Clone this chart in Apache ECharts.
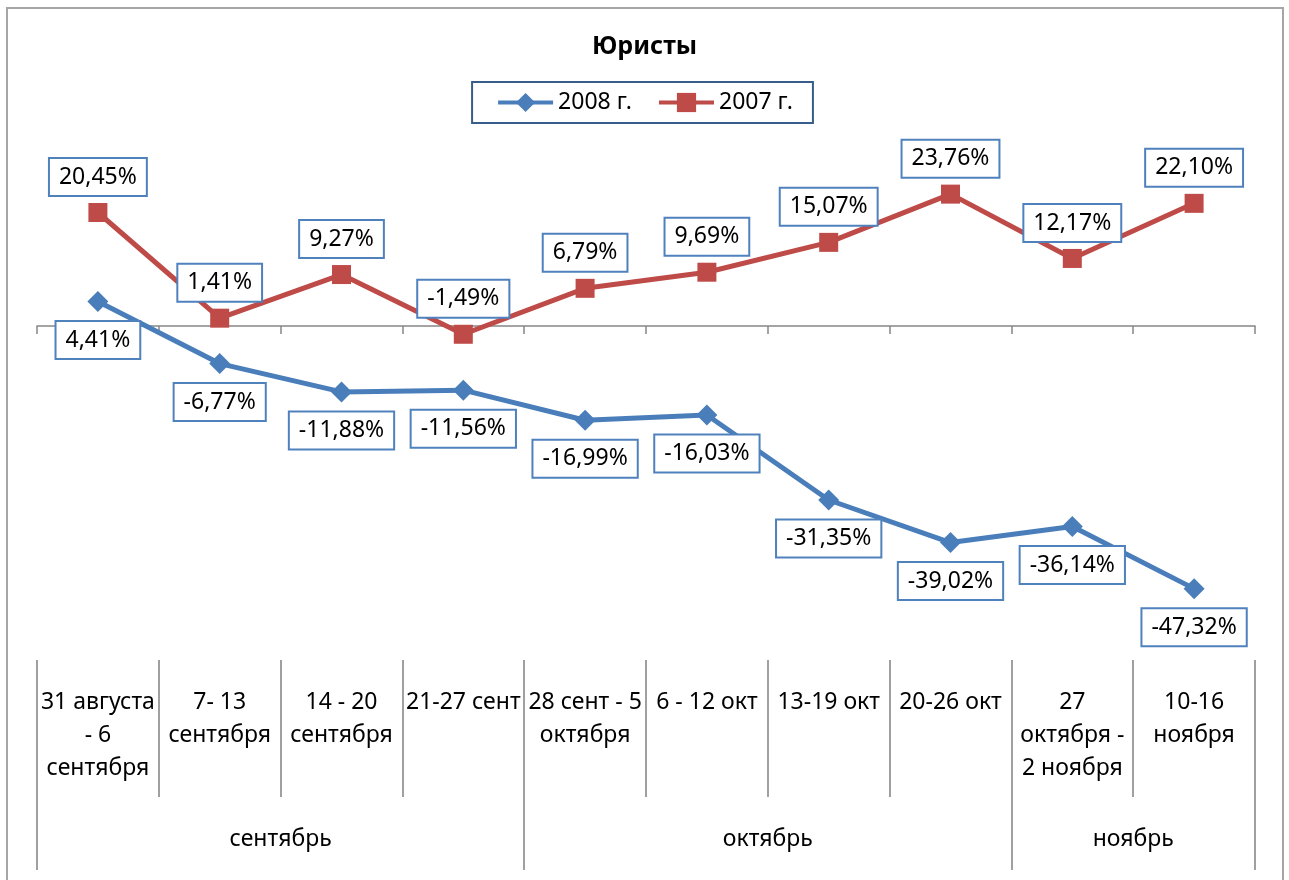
<!DOCTYPE html>
<html><head><meta charset="utf-8">
<script src="https://cdn.jsdelivr.net/npm/echarts@6/dist/echarts.min.js"></script>
<style>
html,body{margin:0;padding:0;background:#fff;}
#chart{position:absolute;left:0;top:0;width:1289px;height:880px;}
#frame{position:absolute;left:6px;top:7px;width:1278px;height:920px;border:2px solid #a6a6a6;pointer-events:none;box-sizing:border-box;}
</style></head><body>
<div id="chart"></div><div id="frame"></div>
<script>
const titleText = 'Юристы';
const categories = ['31 августа\n- 6\nсентября', '7- 13\nсентября', '14 - 20\nсентября', '21-27 сент', '28 сент - 5\nоктября', '6 - 12 окт', '13-19 окт', '20-26 окт', '27\nоктября -\n2 ноября', '10-16\nноября'];
const months = ['сентябрь', 'октябрь', 'ноябрь'];
const monthSpans = [4, 4, 2];
const seriesNames = ['2008 г.', '2007 г.'];
const values2008 = [4.41, -6.77, -11.88, -11.56, -16.99, -16.03, -31.35, -39.02, -36.14, -47.32];
const values2007 = [20.45, 1.41, 9.27, -1.49, 6.79, 9.69, 15.07, 23.76, 12.17, 22.10];

const bounds = [0];
const centers = [];
monthSpans.forEach(function (s) { const b = bounds[bounds.length - 1]; centers.push(b + s / 2); bounds.push(b + s); });

const font = 'Noto Sans';
const fmt = function (v) { return v.toFixed(2).replace('.', ',') + '%'; };
const boxLabel = {
  show: true, formatter: function (p) { return fmt(p.value); },
  backgroundColor: '#fff', borderColor: '#4F81BD', borderWidth: 2, padding: [5, 9],
  fontSize: 23, lineHeight: 26, color: '#000', fontFamily: font
};
const sepStyle = { color: '#a0a0a0', width: 2 };

const chart = echarts.init(document.getElementById('chart'));
chart.setOption({
  animation: false,
  textStyle: { fontFamily: font },
  title: { text: titleText, left: 'center', top: 29, textStyle: { fontSize: 25, fontWeight: 'bold', color: '#000', fontFamily: font } },
  legend: {
    top: 82, left: 'center', padding: [9, 20, 9, 24], borderColor: '#385D8A', borderWidth: 2,
    itemWidth: 55, itemHeight: 24, itemGap: 25, textStyle: { fontSize: 23, color: '#000', fontFamily: font },
    lineStyle: { width: 4 },
    data: seriesNames
  },
  grid: { left: 37, right: 34, top: 104, bottom: 221 },
  xAxis: [
    { type: 'category', data: categories, position: 'bottom',
      axisLine: { onZero: true, lineStyle: { color: '#868686', width: 1.5 } },
      axisTick: { show: true, interval: 0, length: 8, lineStyle: { color: '#868686', width: 1.5 } },
      axisLabel: { show: false } },
    { type: 'category', data: categories, position: 'bottom', offset: 1,
      axisLine: { show: false, onZero: false },
      axisTick: { show: true, interval: 0, length: 137, lineStyle: sepStyle },
      axisLabel: { interval: 0, margin: 26, fontSize: 23, lineHeight: 33, color: '#000', fontFamily: font } },
    { type: 'value', min: 0, max: bounds[bounds.length - 1], position: 'bottom', offset: 1,
      axisLine: { show: false, onZero: false }, splitLine: { show: false },
      axisTick: { show: true, customValues: bounds, length: 210, lineStyle: sepStyle },
      axisLabel: { customValues: centers, formatter: function (v) { const i = centers.indexOf(v); return i >= 0 ? months[i] : ''; },
        margin: 163, fontSize: 23, lineHeight: 33, color: '#000', fontFamily: font } }
  ],
  yAxis: { type: 'value', min: -60, max: 40, show: false },
  series: [
    { name: seriesNames[0], type: 'line', data: values2008, xAxisIndex: 0, symbol: 'diamond', symbolSize: 21,
      lineStyle: { color: '#4A7EBB', width: 5 }, itemStyle: { color: '#4A7EBB' },
      label: Object.assign({ position: 'bottom', distance: 10 }, boxLabel) },
    { name: seriesNames[1], type: 'line', data: values2007, xAxisIndex: 0, symbol: 'rect', symbolSize: 19,
      lineStyle: { color: '#BE4B48', width: 5 }, itemStyle: { color: '#BE4B48' },
      label: Object.assign({ position: 'top', distance: 8 }, boxLabel) }
  ]
});
</script></body></html>
